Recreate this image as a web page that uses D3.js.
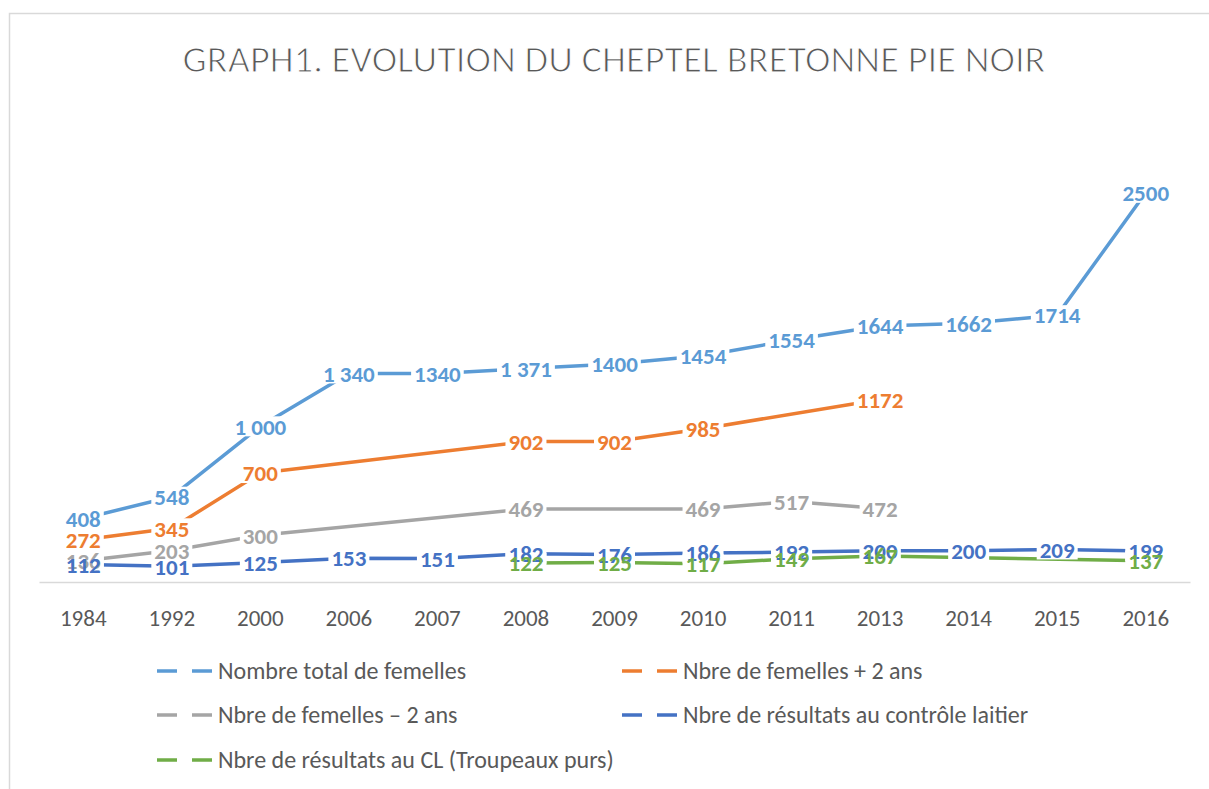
<!DOCTYPE html>
<html><head><meta charset="utf-8">
<script src="https://cdn.jsdelivr.net/npm/d3@7/dist/d3.min.js"></script>
<style>
html,body{margin:0;padding:0;background:#fff;}
svg{display:block;}
</style></head>
<body>
<svg id="chart" width="1209" height="789"></svg>
<script>
const categories = ["1984","1992","2000","2006","2007","2008","2009","2010","2011","2013","2014","2015","2016"];
const totalFemelles = [408,548,1000,1340,1340,1371,1400,1454,1554,1644,1662,1714,2500];
const totalLabels = ["408","548","1 000","1 340","1340","1 371","1400","1454","1554","1644","1662","1714","2500"];
const femellesPlus2 = [272,345,700,null,null,902,902,985,null,1172,null,null,null];
const femellesMoins2 = [136,203,300,null,null,469,null,469,517,472,null,null,null];
const controleLaitier = [112,101,125,153,151,182,176,186,192,200,200,209,199];
const troupeauxPurs = [null,null,null,null,null,122,125,117,149,167,null,null,137];
const seriesNames = ["Nombre total de femelles","Nbre de femelles + 2 ans","Nbre de femelles – 2 ans","Nbre de résultats au contrôle laitier","Nbre de résultats au CL (Troupeaux purs)"];
const seriesColors = ["#5B9BD5","#ED7D31","#A5A5A5","#4472C4","#70AD47"];
const title = "GRAPH1. EVOLUTION DU CHEPTEL BRETONNE PIE NOIR";

const series = [
  {name: seriesNames[0], color: seriesColors[0], values: totalFemelles, labels: totalLabels},
  {name: seriesNames[1], color: seriesColors[1], values: femellesPlus2},
  {name: seriesNames[2], color: seriesColors[2], values: femellesMoins2},
  {name: seriesNames[3], color: seriesColors[3], values: controleLaitier},
  {name: seriesNames[4], color: seriesColors[4], values: troupeauxPurs}
];

const FONT = "Carlito, Calibri, Lato, 'Open Sans', sans-serif";
const svg = d3.select("#chart");

// chart frame
svg.append("rect").attr("x",9.5).attr("y",13.5).attr("width",1220).attr("height",800)
  .attr("fill","#fff").attr("stroke","#d9d9d9").attr("stroke-width",1.5);

// title
svg.append("text").attr("x",614).attr("y",72).attr("text-anchor","middle")
  .attr("font-family",FONT).attr("font-weight",300).attr("font-size",37)
  .attr("fill","#595959").attr("stroke","#fff").attr("stroke-width",1.1)
  .attr("textLength",863).attr("lengthAdjust","spacingAndGlyphs")
  .text(title);

const x = d3.scaleBand().domain(categories).range([39,1190]);
const y = d3.scaleLinear().domain([0,3000]).range([582,115]);

// x axis
const xAxis = d3.axisBottom(x).tickSize(0).tickPadding(0);
const gx = svg.append("g").attr("transform","translate(0,582)").call(xAxis);
gx.select(".domain").attr("stroke","#d9d9d9").attr("stroke-width",1.5);
gx.selectAll(".tick text").attr("font-family",FONT).attr("font-size",23)
  .attr("fill","#595959").attr("dy",0).attr("y",44);

const cx = c => x(c) + x.bandwidth()/2;

// lines
const line = d3.line().x(d => cx(d.c)).y(d => y(d.v));
series.forEach(s => {
  const pts = categories.map((c,i) => ({c, v: s.values[i]})).filter(d => d.v != null);
  svg.append("path").datum(pts).attr("d", line).attr("fill","none")
    .attr("stroke", s.color).attr("stroke-width",3.5).attr("stroke-linejoin","round");
});

// labels
const labelData = [];
series.forEach(s => {
  categories.forEach((c,i) => {
    const v = s.values[i];
    if (v == null) return;
    labelData.push({x: cx(c), y: y(v), text: s.labels ? s.labels[i] : String(v), color: s.color});
  });
});
const gBg = svg.append("g");
const gTxt = svg.append("g");
labelData.forEach(d => {
  const t = gTxt.append("text").attr("x", d.x).attr("y", d.y).attr("dy","0.36em")
    .attr("text-anchor","middle").attr("font-family",FONT).attr("font-weight",700)
    .attr("font-size",23).attr("fill", d.color).text(d.text);
  const w = t.node().getComputedTextLength();
  gBg.append("rect").attr("x", d.x - w/2 - 3).attr("y", d.y - 10).attr("width", w + 6).attr("height", 20)
    .attr("fill","#fff");
});

// legend
const legendPos = [[157,671],[622,671],[157,715],[622,715],[157,760]];
series.forEach((s,i) => {
  const [lx, ly] = legendPos[i];
  const g = svg.append("g").attr("transform",`translate(${lx},${ly})`);
  g.append("line").attr("x1",0).attr("x2",55).attr("y1",0).attr("y2",0)
    .attr("stroke", s.color).attr("stroke-width",3.5).attr("stroke-dasharray","20,15");
  g.append("text").attr("x",61).attr("y",0).attr("dy","0.35em")
    .attr("font-family",FONT).attr("font-size",24).attr("fill","#595959").text(s.name);
});
</script>
</body></html>
